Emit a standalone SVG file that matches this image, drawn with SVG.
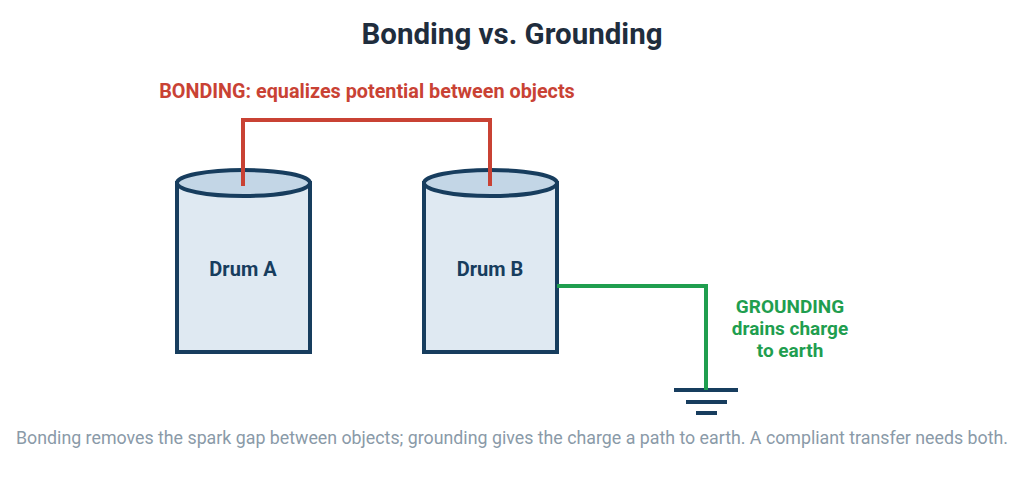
<svg xmlns="http://www.w3.org/2000/svg" width="1024" height="488" viewBox="0 0 1024 488">
<style>
text{font-family:Roboto,"Liberation Sans",sans-serif}
.body{fill:#dfe9f2;stroke:#173d5e;stroke-width:4}
.top{fill:#c3d6e6;stroke:#173d5e;stroke-width:4}
.lbl{font-size:20px;font-weight:bold;fill:#173d5e;text-anchor:middle}
.gnd{stroke:#173d5e;stroke-width:4}
</style>
<rect width="1024" height="488" fill="#fff"/>
<text x="512" y="44" text-anchor="middle" font-size="29.5" font-weight="bold" fill="#1f2d3d">Bonding vs. Grounding</text>
<text x="367" y="98" text-anchor="middle" font-size="19.8" font-weight="bold" fill="#c94234">BONDING: equalizes potential between objects</text>
<g id="drumA">
<rect class="body" x="177" y="183" width="133" height="169"/>
<ellipse class="top" cx="243.5" cy="183" rx="66.5" ry="13"/>
<text class="lbl" x="243" y="276">Drum A</text>
</g>
<g id="drumB">
<rect class="body" x="424" y="183" width="133" height="169"/>
<ellipse class="top" cx="490.5" cy="183" rx="66.5" ry="13"/>
<text class="lbl" x="490" y="276">Drum B</text>
</g>
<g id="ground">
<line class="gnd" x1="674" y1="390" x2="738" y2="390"/>
<line class="gnd" x1="686" y1="402" x2="727" y2="402"/>
<line class="gnd" x1="696" y1="413" x2="717" y2="413"/>
</g>
<g id="connectors" fill="none" stroke-width="4">
<polyline points="243,186 243,120 490,120 490,186" stroke="#c94234"/>
<polyline points="557,286 706,286 706,390" stroke="#1f9e4f"/>
</g>
<text font-size="19" font-weight="bold" fill="#1f9e4f" text-anchor="middle"><tspan x="790" y="313">GROUNDING</tspan><tspan x="790" y="335">drains charge</tspan><tspan x="790" y="357">to earth</tspan></text>
<text x="512" y="444" text-anchor="middle" font-size="17.8" fill="#8a9aa8">Bonding removes the spark gap between objects; grounding gives the charge a path to earth. A compliant transfer needs both.</text>
</svg>
